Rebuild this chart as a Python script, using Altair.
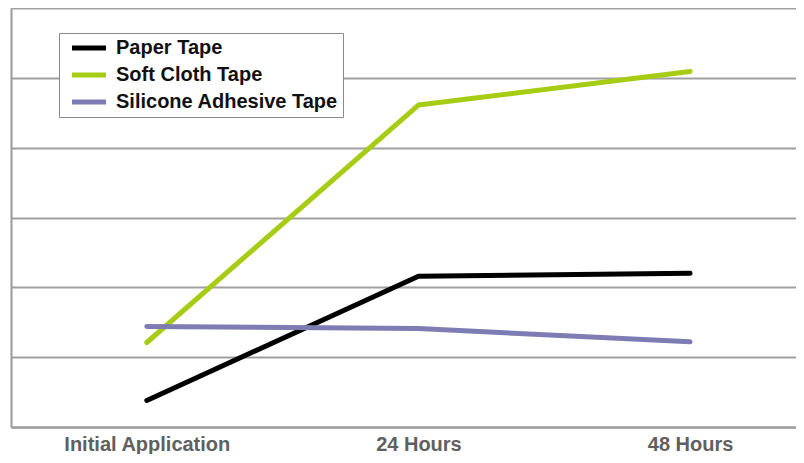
import altair as alt
import pandas as pd

times = ["Initial Application", "24 Hours", "48 Hours"]
time_pos = [0, 1, 2]
series = ["Paper Tape", "Soft Cloth Tape", "Silicone Adhesive Tape"]
paper = [0.38, 2.16, 2.20]
soft_cloth = [1.21, 4.61, 5.09]
silicone = [1.44, 1.41, 1.22]
colors = ["#000000", "#a6cc14", "#7d7db3"]

rows = []
for name, vals in zip(series, [paper, soft_cloth, silicone]):
    for t, p, v in zip(times, time_pos, vals):
        rows.append({"series": name, "time": t, "pos": p, "value": v})
df = pd.DataFrame(rows)

label_expr = "datum.value == 0 ? 'Initial Application' : datum.value == 1 ? '24 Hours' : datum.value == 2 ? '48 Hours' : ''"

chart = alt.Chart(df).mark_line(strokeWidth=5, strokeCap="round", strokeJoin="round").encode(
    x=alt.X("pos:Q",
            scale=alt.Scale(domain=[-0.5, 2.39], nice=False, zero=False),
            axis=alt.Axis(values=time_pos, labelExpr=label_expr, title=None, grid=False,
                          ticks=False, domainColor="#9a9a9a", domainWidth=2,
                          labelFont="Liberation Sans", labelFontWeight="bold",
                          labelFontSize=20, labelColor="#606060", labelPadding=7,
                          labelFlush=False)),
    y=alt.Y("value:Q",
            scale=alt.Scale(domain=[0, 6], nice=False),
            axis=alt.Axis(values=[0, 1, 2, 3, 4, 5, 6], labels=False, ticks=False, title=None,
                          grid=True, gridColor="#a0a0a0", gridWidth=2,
                          domainColor="#9a9a9a", domainWidth=2)),
    color=alt.Color("series:N",
                    scale=alt.Scale(domain=series, range=colors),
                    legend=alt.Legend(title=None, orient="none", legendX=48, legendY=25,
                                      symbolType="M-2.43,0L2.43,0", symbolStrokeWidth=5,
                                      symbolSize=196, symbolOffset=15,
                                      labelFont="Liberation Sans",
                                      labelFontWeight="bold", labelFontSize=20,
                                      labelColor="#111111", labelOffset=17,
                                      padding=5, rowPadding=7,
                                      strokeColor="#8a8a8a", fillColor="#ffffff",
                                      labelLimit=400)),
    order="pos:Q",
).properties(
    width=785, height=419,
    padding={"left": 3, "top": 0, "right": 0, "bottom": 0},
).configure_view(stroke=None).configure(background="#ffffff")

chart.save("out.html", embed_options={"renderer": "svg", "actions": False})
